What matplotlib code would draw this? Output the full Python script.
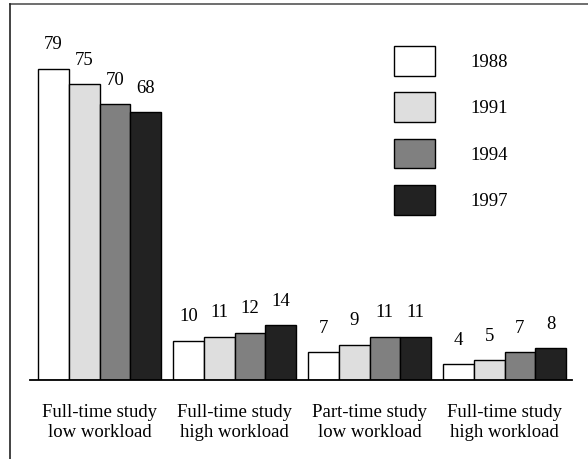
import numpy as np
import matplotlib.pyplot as plt
from matplotlib.lines import Line2D

categories = ["Full-time study\nlow workload", "Full-time study\nhigh workload",
              "Part-time study\nlow workload", "Full-time study\nhigh workload"]
years = ["1988", "1991", "1994", "1997"]
v1988 = [79, 10, 7, 4]
v1991 = [75, 11, 9, 5]
v1994 = [70, 12, 11, 7]
v1997 = [68, 14, 11, 8]

series = [v1988, v1991, v1994, v1997]
colors = ["#ffffff", "#dedede", "#808080", "#222222"]

plt.rcParams["font.family"] = ["Liberation Serif", "DejaVu Serif"]
fs = 13.5

fig = plt.figure(figsize=(5.88, 4.59), dpi=100)
ax = fig.add_axes([30 / 588, 79 / 459, 542 / 588, 376 / 459])

x = np.arange(len(categories))
w = 0.228
bars = []
for i, (vals, c, yr) in enumerate(zip(series, colors, years)):
    b = ax.bar(x + (i - 1.5) * w, vals, w, color=c, edgecolor="black",
               linewidth=1.0, label=yr)
    bars.append(b)
    for xi, v in zip(x + (i - 1.5) * w, vals):
        ax.annotate(str(v), (xi, v), xytext=(0, 11), textcoords="offset points",
                    ha="center", va="bottom", fontsize=fs)

ax.set_xlim(-0.515, 3.5)
ax.set_ylim(0, 95.4)
ax.set_xticks(x)
ax.set_xticklabels(categories, fontsize=fs, linespacing=1.2)
ax.tick_params(axis="x", length=0, pad=17.5)
ax.set_yticks([])
for s in ["top", "left", "right"]:
    ax.spines[s].set_visible(False)
ax.spines["bottom"].set_linewidth(1.3)

ax.legend(handles=bars, loc="upper left", bbox_to_anchor=(394 / 588, 1 - 46 / 459),
          bbox_transform=fig.transFigure, frameon=False, fontsize=fs,
          handlelength=2.2, handleheight=2.05, labelspacing=0.9,
          handletextpad=1.9, borderpad=0, borderaxespad=0)

# frame lines at top and left of the figure
fig.add_artist(Line2D([10 / 588, 1], [1 - 4 / 459, 1 - 4 / 459], color="#555555", lw=1.2))
fig.add_artist(Line2D([10 / 588, 10 / 588], [0, 1 - 4 / 459], color="#222222", lw=1.2))

plt.savefig("out.png", dpi=100)
